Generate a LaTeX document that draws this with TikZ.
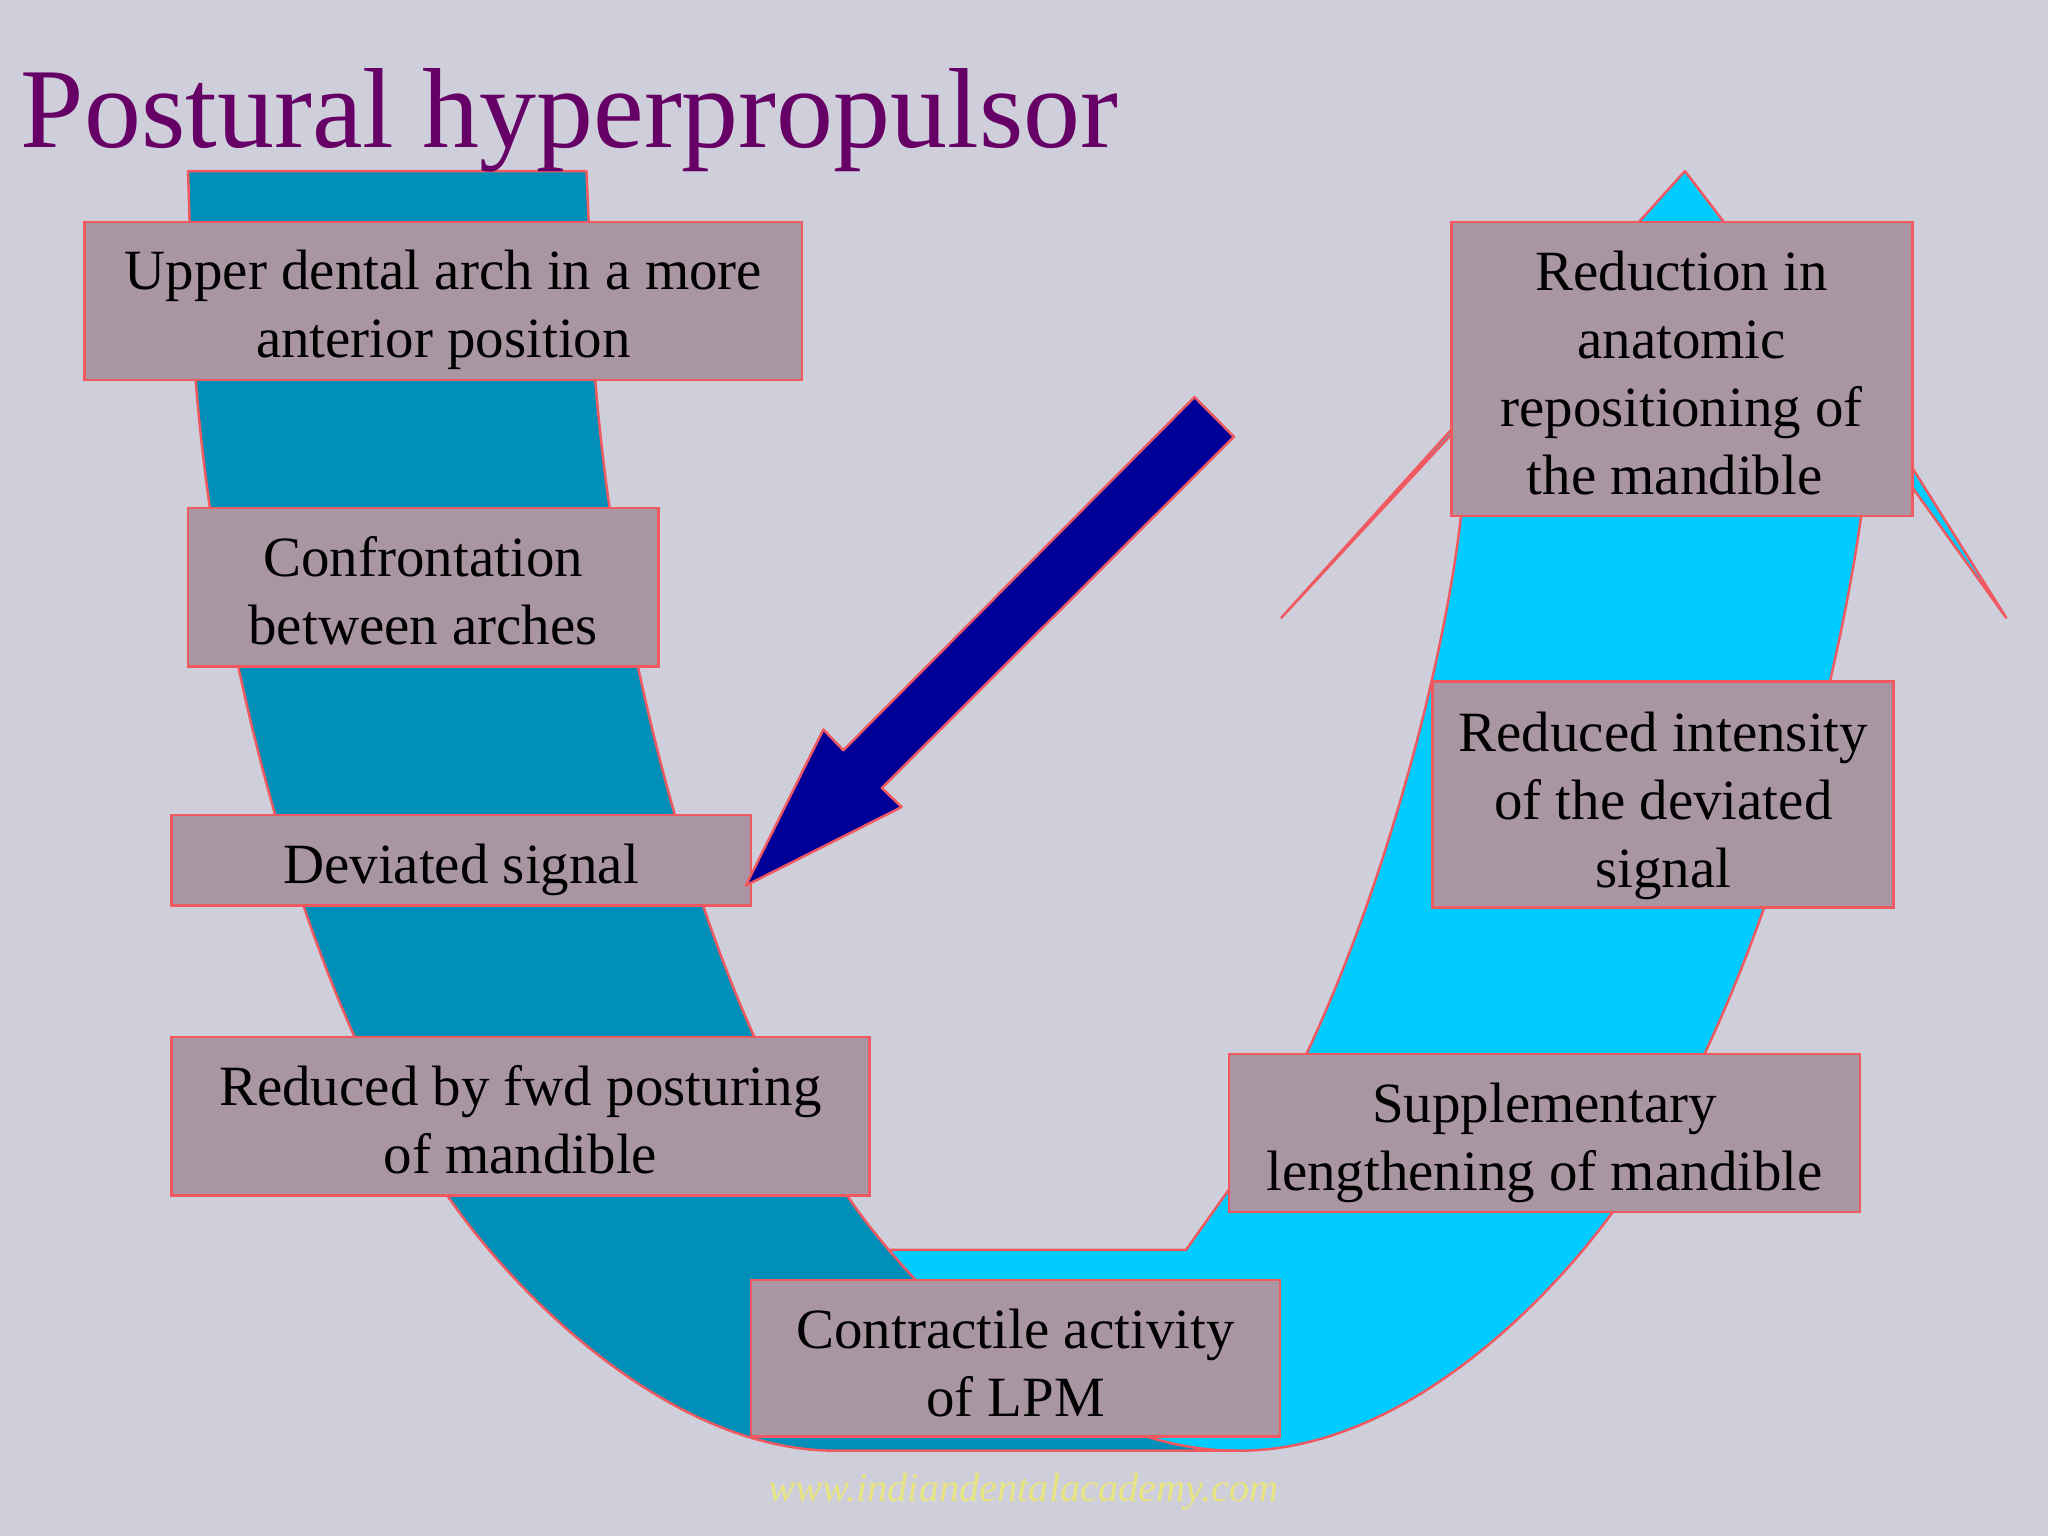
\documentclass[tikz,border=0pt]{standalone}
\usepackage{fontspec}
\setmainfont{Liberation Serif}
\usepackage{xcolor}

\definecolor{slideBg}{RGB}{207,207,219}
\definecolor{archDark}{RGB}{0,143,184}
\definecolor{archLight}{RGB}{0,204,255}
\definecolor{boxFill}{RGB}{170,150,163}
\definecolor{edgeRed}{RGB}{240,89,95}
\definecolor{arrowBlue}{RGB}{0,0,153}
\definecolor{titlePurple}{RGB}{102,0,102}
\definecolor{markYellow}{RGB}{232,228,128}

\def\pxu{0.0130612cm}

\tikzset{
  noteBox/.style={draw=edgeRed, line width=0.8pt, fill=boxFill, inner sep=0pt},
  noteText/.style={inner sep=0pt, align=center, text=black, font=\fontsize{16.2}{19.4}\selectfont},
  archEdge/.style={draw=edgeRed, line width=0.7pt, line join=round}
}

\begin{document}
\begin{tikzpicture}[x=\pxu,y=-\pxu]

% Slide background
\fill[slideBg] (0,0) rectangle (1568,1176);
\useasboundingbox (0,0) rectangle (1568,1176);

% Light half of the U, with arrow head on the right
\path[archEdge, fill=archLight] (680,957) -- (908,957) -- (940,912)
  .. controls (1032,785) and (1102,540) .. (1118.6,395)
  -- (1122,321) -- (981,473) -- (1290,131) -- (1464,358) -- (1536,473) -- (1464,373) -- (1425,395)
  .. controls (1400,570) and (1330,800) .. (1234,929)
  .. controls (1182,1000) and (1072,1110.7) .. (949,1110.7)
  -- (800,1110.7) -- cycle;

% Dark half of the U
\path[archEdge, fill=archDark] (144,131) -- (449,131) -- (452,200)
  .. controls (452,430) and (535,775) .. (649,916)
  .. controls (696,985) and (816,1110.7) .. (946,1110.7)
  -- (640,1110.7)
  .. controls (510,1110.7) and (390,985) .. (343,916)
  .. controls (229,775) and (146,430) .. (146,200)
  -- cycle;

% Boxes
\node[noteBox, minimum width=549*\pxu, minimum height=121*\pxu] (upperArch) at (339.5,230.5) {};
\node[noteBox, minimum width=360*\pxu, minimum height=121*\pxu] (confront) at (324,449.5) {};
\node[noteBox, minimum width=444*\pxu, minimum height=69*\pxu] (devSignal) at (353,658.5) {};
\node[noteBox, minimum width=535*\pxu, minimum height=121*\pxu] (fwdPosture) at (398.5,854.5) {};
\node[noteBox, minimum width=405*\pxu, minimum height=120*\pxu] (contractile) at (777.5,1040) {};
\node[noteBox, minimum width=483*\pxu, minimum height=121*\pxu] (lengthening) at (1182.5,867.5) {};
\node[noteBox, minimum width=353*\pxu, minimum height=173*\pxu] (intensity) at (1273.5,608.5) {};
\node[noteBox, minimum width=353*\pxu, minimum height=225*\pxu] (reduction) at (1287.5,282.5) {};

% Box texts (not quite centred in their boxes)
\node[noteText] (upperArchText) at (339.5,237.5) {Upper dental arch in a more\\anterior position};
\node[noteText] (confrontText) at (324,452.5) {Confrontation\\between arches};
\node[noteText] (devSignalText) at (353,666) {Deviated signal};
\node[noteText] (fwdPostureText) at (398.5,857.5) {Reduced by fwd posturing\\of mandible};
\node[noteText] (contractileText) at (777.5,1043.5) {Contractile activity\\of LPM};
\node[noteText] (lengtheningText) at (1182.5,875) {Supplementary\\lengthening of mandible};
\node[noteText] (intensityText) at (1273.5,617) {Reduced intensity\\of the deviated\\signal};
\node[noteText] (reductionText) at (1287.5,285.5) {Reduction in\\anatomic\\repositioning of\\the mandible\rule{0.14cm}{0pt}};

% Blue arrow, its tip lies over the box
\path[archEdge, fill=arrowBlue] (571,678) -- (630.4,558.5) -- (645.7,574.4) -- (914.6,304) -- (944.7,334.4) -- (675.2,603.3) -- (690.3,617.9) -- cycle;

% Title and web address
\node[anchor=base west, inner sep=0pt, text=titlePurple, font=\fontsize{32.4}{32.4}\selectfont] (slideTitle) at (15.5,113) {Postural hyperpropulsor};
\node[anchor=base west, inner sep=0pt, text=markYellow, font=\fontsize{11.47}{12}\selectfont\itshape] (webMark) at (588,1149.5) {www.indiandentalacademy.com};

\end{tikzpicture}
\end{document}
